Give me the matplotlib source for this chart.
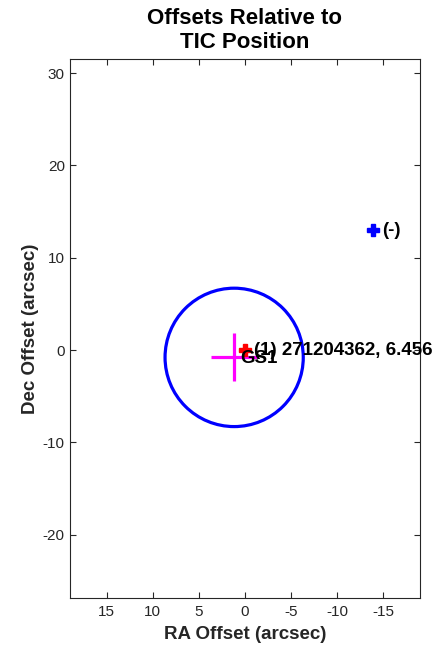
import matplotlib
matplotlib.use("Agg")
import matplotlib.pyplot as plt
from matplotlib.patches import Circle

plt.rcParams['font.family'] = ['Liberation Sans', 'DejaVu Sans']

# Data
title = "Offsets Relative to\nTIC Position"
xlabel = "RA Offset (arcsec)"
ylabel = "Dec Offset (arcsec)"
xticks = [15, 10, 5, 0, -5, -10, -15]
yticks = [-20, -10, 0, 10, 20, 30]
xlim = (19, -19)
ylim = (-26.85, 31.5)

# aperture circle
circle_center = (1.15, -0.8)
circle_radius = 7.5

# centroid cross (GS1)
cross_center = (1.2, -0.8)
cross_err_ra = 2.5
cross_err_dec = 2.6
cross_label = "GS1"

# stars
star_ra = [0.0, -13.9]
star_dec = [0.0, 13.0]
star_labels = ["(1) 271204362, 6.456", "(-)"]
star_colors = ["red", "blue"]

fig = plt.figure(figsize=(4.41, 6.49), dpi=100)
ax = fig.add_axes([0.158, 0.079, 0.794, 0.8295])

ax.add_patch(Circle(circle_center, circle_radius, fill=False,
                    edgecolor=(0, 0, 1), linewidth=2.3, zorder=2))

ax.plot([cross_center[0] - cross_err_ra, cross_center[0] + cross_err_ra],
        [cross_center[1], cross_center[1]], color=(1, 0, 1), lw=2.3, zorder=3,
        solid_capstyle='butt')
ax.plot([cross_center[0], cross_center[0]],
        [cross_center[1] - cross_err_dec, cross_center[1] + cross_err_dec],
        color=(1, 0, 1), lw=2.3, zorder=3, solid_capstyle='butt')

for ra, dec, lab, c in zip(star_ra, star_dec, star_labels, star_colors):
    ax.plot([ra], [dec], marker='P', markersize=9, color=c,
            markeredgecolor=c, linestyle='none', zorder=4)
    ax.annotate(lab, (ra, dec), xytext=(7, 0), textcoords='offset points',
                ha='left', va='center', fontsize=13.5, fontweight='bold',
                annotation_clip=False, zorder=5)

ax.annotate(cross_label, cross_center, xytext=(5, -1), textcoords='offset points',
            ha='left', va='center', fontsize=13.5, fontweight='bold', zorder=5)

ax.set_xlim(*xlim)
ax.set_ylim(*ylim)
ax.set_xticks(xticks)
ax.set_yticks(yticks)
ax.set_xticklabels([str(t) for t in xticks])
ax.set_yticklabels([str(t) for t in yticks])
ax.tick_params(direction='in', top=True, right=True, length=4, width=0.8,
               labelsize=11, colors='#262626', labelcolor='#262626')
ax.tick_params(axis='x', pad=5)
for s in ax.spines.values():
    s.set_color('#262626')
    s.set_linewidth(0.8)

ax.set_xlabel(xlabel, fontsize=13.5, fontweight='bold', color='#262626', labelpad=5)
ax.set_ylabel(ylabel, fontsize=13.5, fontweight='bold', color='#262626', labelpad=3)
ax.set_title(title, fontsize=16, fontweight='bold', linespacing=1.2, pad=8)

fig.savefig("out.png", dpi=100)
